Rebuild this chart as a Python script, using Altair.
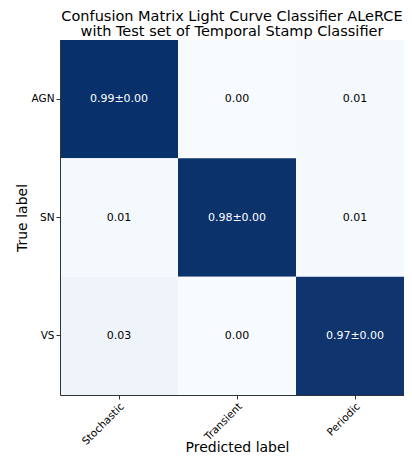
import altair as alt
import pandas as pd

true_labels = ["AGN", "SN", "VS"]
pred_labels = ["Stochastic", "Transient", "Periodic"]
values = [
    [0.99, 0.00, 0.01],
    [0.01, 0.98, 0.01],
    [0.03, 0.00, 0.97],
]
texts = [
    ["0.99±0.00", "0.00", "0.01"],
    ["0.01", "0.98±0.00", "0.01"],
    ["0.03", "0.00", "0.97±0.00"],
]

rows = []
for i, t in enumerate(true_labels):
    for j, p in enumerate(pred_labels):
        rows.append({"true": t, "pred": p, "v": values[i][j], "txt": texts[i][j]})
df = pd.DataFrame(rows)

FONT = "DejaVu Sans"
xscale = alt.Scale(paddingInner=0, paddingOuter=0, range=[0, 354])

x = alt.X("pred:N", sort=pred_labels, title="Predicted label", scale=xscale,
          axis=alt.Axis(labelAngle=-45, labelAlign="right", labelBaseline="top",
                        labelFontSize=10.5, titleFontSize=14, titleFontWeight="normal",
                        titlePadding=-6, tickSize=4, labelPadding=2,
                        domainColor="#333", tickColor="#333", labelColor="#000",
                        titleColor="#000"))
y = alt.Y("true:N", sort=true_labels, title="True label",
          scale=alt.Scale(paddingInner=0, paddingOuter=0),
          axis=alt.Axis(labelAngle=0, labelFontSize=10.5, titleFontSize=14,
                        titleFontWeight="normal", titlePadding=2, tickSize=4, labelPadding=2,
                        domainColor="#333", tickColor="#333", labelColor="#000",
                        titleColor="#000"))

rect = alt.Chart(df).mark_rect(clip=True).encode(
    x=x, y=y,
    color=alt.Color("v:Q", scale=alt.Scale(domain=[0, 0.99], range=["#f7fbff", "#08306b"], clamp=True),
                    legend=None),
)
text = alt.Chart(df).mark_text(fontSize=11, font=FONT).encode(
    x=alt.X("pred:N", sort=pred_labels, scale=xscale,
            axis=alt.Axis(orient="top", labels=False, ticks=False, title=None,
                          domainColor="#333")),
    y=alt.Y("true:N", sort=true_labels),
    text="txt:N",
    color=alt.condition(alt.datum.v > 0.5, alt.value("white"), alt.value("black")),
)

chart = alt.layer(rect, text).resolve_axis(x="independent").properties(
    width=344, height=355,
    title=alt.Title(["Confusion Matrix Light Curve Classifier ALeRCE",
                     "with Test set of Temporal Stamp Classifier"],
                    fontSize=14.5, fontWeight="normal", font=FONT, offset=1, color="#000",
                    anchor="middle", lineHeight=15),
    autosize=alt.AutoSizeParams(type="none"),
    padding={"left": 52, "top": 32, "right": 0, "bottom": 60},
).configure(font=FONT).configure_axis(labelFont=FONT, titleFont=FONT, grid=False
).configure_view(strokeWidth=0)

chart.save("out.html", embed_options={"renderer": "svg", "actions": False})
